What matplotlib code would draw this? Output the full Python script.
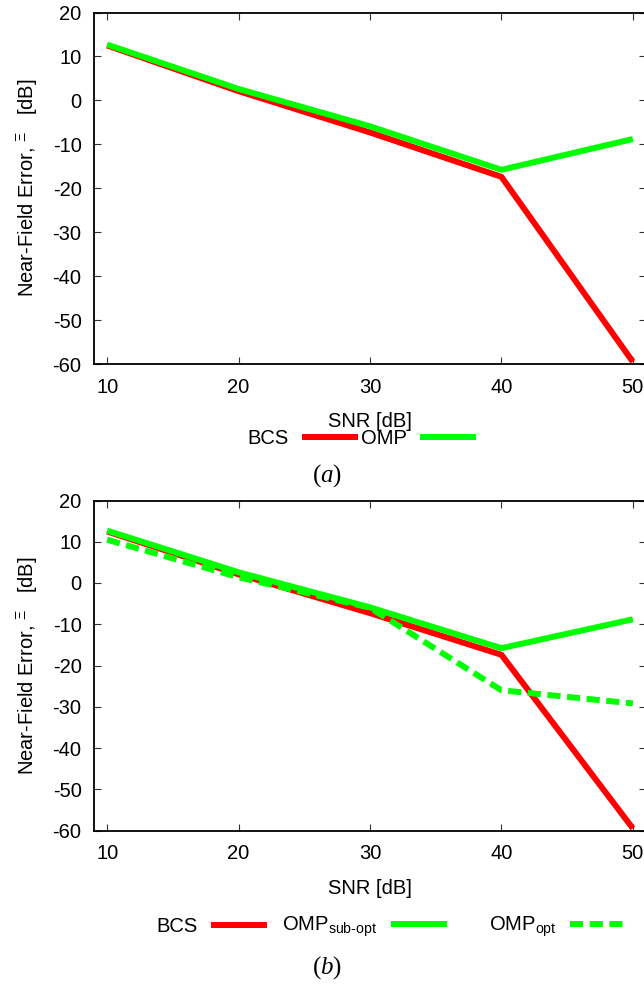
import matplotlib
matplotlib.use("Agg")
import matplotlib.pyplot as plt

# data
snr = [10, 20, 30, 40, 50]
bcs = [12.5, 2.1, -7.3, -17.4, -59.5]
omp_sub = [12.7, 2.6, -5.9, -15.8, -8.8]
omp_opt = [10.5, 1.4, -6.0, -26.0, -29.2]

xticks = [10, 20, 30, 40, 50]
yticks = [20, 10, 0, -10, -20, -30, -40, -50, -60]

plt.rcParams["font.family"] = ["Liberation Sans", "DejaVu Sans"]
plt.rcParams["axes.unicode_minus"] = False
plt.rcParams["mathtext.fontset"] = "custom"
plt.rcParams["mathtext.rm"] = "Liberation Sans"
plt.rcParams["mathtext.it"] = "Liberation Serif:italic"
plt.rcParams["mathtext.sf"] = "Liberation Serif"

RED = "#ff0000"
GREEN = "#00ff00"
LW = 4.3
FS = 14.5

W, H = 644, 986
fig = plt.figure(figsize=(W / 100, H / 100), dpi=100)


def make_axes(top_px, bottom_px):
    # axes box in pixels; right edge falls just outside the picture
    left, right = 94, 646
    ax = fig.add_axes([left / W, 1 - bottom_px / H, (right - left) / W, (bottom_px - top_px) / H])
    ax.set_xlim(9, 51)
    ax.set_ylim(-60, 20)
    ax.set_xticks(xticks)
    ax.set_yticks(yticks)
    ax.tick_params(direction="in", top=True, right=True, length=5, width=0.8,
                   labelsize=FS, color="#333333")
    ax.tick_params(axis="x", pad=10)
    ax.tick_params(axis="y", pad=9)
    for s in ax.spines.values():
        s.set_linewidth(1.3)
    ax.set_xlabel("SNR [dB]", fontsize=FS, labelpad=11)
    ax.set_ylabel("Near-Field Error, $^{\\Xi}$   [dB]", fontsize=FS, labelpad=9)
    return ax


def key(handles, labels, line_ends, y_px):
    # one small legend per entry, text on the left of the sample, right aligned
    for h, lab, xe in zip(handles, labels, line_ends):
        fig.legend([h], [lab], loc="center right", bbox_to_anchor=(xe / W, 1 - y_px / H),
                   frameon=False, markerfirst=False, fontsize=FS, handlelength=2.8,
                   handletextpad=0.65, borderpad=0, borderaxespad=0)


# (a)
ax1 = make_axes(12.5, 364)
l1, = ax1.plot(snr, bcs, color=RED, lw=LW, solid_capstyle="butt")
l2, = ax1.plot(snr, omp_sub, color=GREEN, lw=LW, solid_capstyle="butt")
key([l1, l2], ["BCS", "OMP"], [358, 476], 439)
fig.text(327 / W, 1 - 476 / H, r"$\mathsf{(}\mathit{a}\mathsf{)}$", fontsize=18,
         ha="center", va="center")

# (b)
ax2 = make_axes(500.5, 830.5)
m1, = ax2.plot(snr, bcs, color=RED, lw=LW, solid_capstyle="butt")
m2, = ax2.plot(snr, omp_sub, color=GREEN, lw=LW, solid_capstyle="butt")
m3, = ax2.plot(snr, omp_opt, color=GREEN, lw=LW, linestyle=(0, (2.2, 1.1)),
               dash_capstyle="butt")
key([m1, m2, m3], ["BCS", r"OMP$_{\text{sub-opt}}$", r"OMP$_{\text{opt}}$"],
    [267, 447, 626], 927)
fig.text(327 / W, 1 - 968 / H, r"$\mathsf{(}\mathit{b}\mathsf{)}$", fontsize=18,
         ha="center", va="center")

fig.savefig("out.png", dpi=100)
